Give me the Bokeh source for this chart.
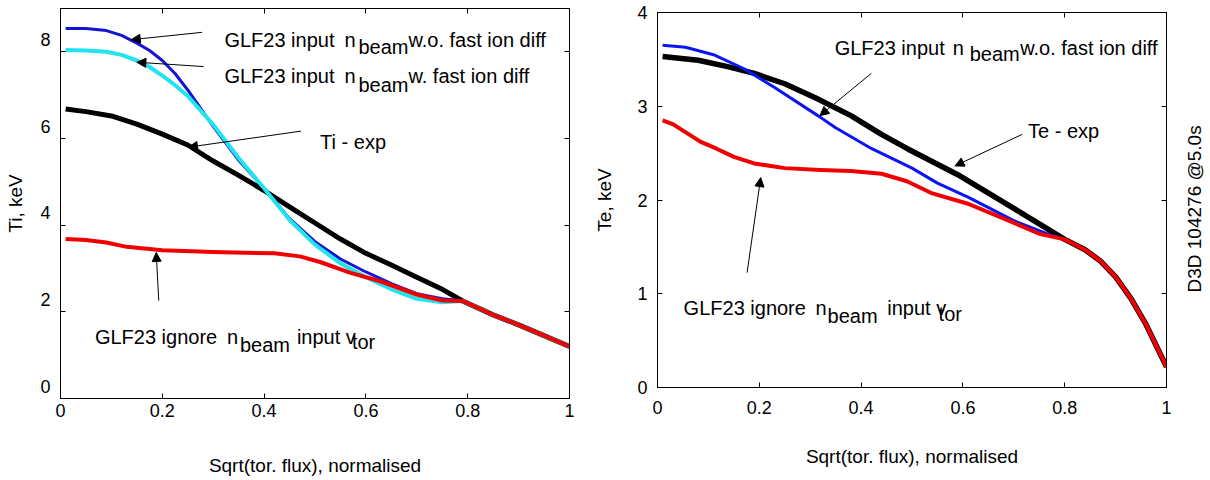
from math import pi
from bokeh.plotting import figure
from bokeh.layouts import row
from bokeh.models import (Range1d, FixedTicker, LinearAxis, Label, Arrow,
                          NormalHead, CustomJSTickFormatter)
from bokeh.embed import file_html
from bokeh.resources import INLINE

FONT = "Liberation Sans"

# ---------------- data: Ti (left panel) ----------------
ti_x_wo = [0.01, 0.05, 0.09, 0.12, 0.15, 0.175, 0.2, 0.225, 0.25, 0.3, 0.35, 0.4, 0.45, 0.5,
           0.55, 0.6, 0.65, 0.7, 0.75, 0.79, 0.85, 0.9, 0.95, 1.0]
ti_wo = [8.54, 8.54, 8.49, 8.38, 8.2, 8.03, 7.8, 7.5, 7.12, 6.28, 5.5, 4.85, 4.15, 3.62,
         3.22, 2.92, 2.65, 2.42, 2.3, 2.25, 1.93, 1.7, 1.45, 1.2]
ti_x_w = [0.01, 0.05, 0.09, 0.12, 0.15, 0.175, 0.2, 0.225, 0.25, 0.3, 0.35, 0.4, 0.45, 0.5,
          0.55, 0.6, 0.65, 0.7, 0.75, 0.79, 0.85, 0.9, 0.95, 1.0]
ti_w = [8.04, 8.03, 8.0, 7.93, 7.8, 7.65, 7.45, 7.23, 6.98, 6.32, 5.55, 4.85, 4.12, 3.55,
        3.12, 2.8, 2.52, 2.3, 2.22, 2.25, 1.93, 1.7, 1.45, 1.2]
ti_x_exp = [0.01, 0.05, 0.1, 0.15, 0.2, 0.25, 0.3, 0.35, 0.4, 0.45, 0.5, 0.55, 0.6, 0.65,
            0.7, 0.75, 0.79, 0.85, 0.9, 0.95, 1.0]
ti_exp = [6.68, 6.62, 6.52, 6.33, 6.1, 5.85, 5.48, 5.15, 4.8, 4.42, 4.05, 3.68, 3.35, 3.08,
          2.8, 2.52, 2.25, 1.93, 1.7, 1.45, 1.2]
ti_x_ign = [0.01, 0.05, 0.09, 0.13, 0.2, 0.3, 0.42, 0.47, 0.51, 0.57, 0.63, 0.7, 0.75, 0.79,
            0.85, 0.9, 0.95, 1.0]
ti_ign = [3.68, 3.66, 3.6, 3.5, 3.42, 3.38, 3.35, 3.28, 3.15, 2.9, 2.7, 2.4, 2.26, 2.25,
          1.93, 1.7, 1.45, 1.2]

# ---------------- data: Te (right panel) ----------------
te_x_exp = [0.01, 0.08, 0.14, 0.19, 0.25, 0.31, 0.38, 0.44, 0.49, 0.59, 0.7, 0.8,
            0.84, 0.87, 0.9, 0.93, 0.96, 1.0]
te_exp = [3.53, 3.49, 3.42, 3.35, 3.24, 3.09, 2.9, 2.7, 2.55, 2.27, 1.91, 1.58,
          1.47, 1.35, 1.18, 0.95, 0.67, 0.22]
te_x_wo = [0.01, 0.055, 0.11, 0.17, 0.23, 0.315, 0.35, 0.42, 0.5, 0.55, 0.61, 0.7, 0.77, 0.8,
           0.84, 0.87, 0.9, 0.93, 0.96, 1.0]
te_wo = [3.65, 3.63, 3.55, 3.4, 3.2, 2.9, 2.77, 2.55, 2.34, 2.18, 2.03, 1.78, 1.63, 1.58,
         1.47, 1.35, 1.18, 0.95, 0.67, 0.22]
te_x_ign = [0.01, 0.03, 0.085, 0.115, 0.15, 0.19, 0.25, 0.32, 0.38, 0.44, 0.49, 0.54, 0.61,
            0.69, 0.75, 0.8, 0.84, 0.87, 0.9, 0.93, 0.96, 1.0]
te_ign = [2.85, 2.81, 2.62, 2.55, 2.46, 2.39, 2.34, 2.32, 2.31, 2.28, 2.2, 2.07, 1.96,
          1.78, 1.64, 1.58, 1.47, 1.35, 1.18, 0.95, 0.67, 0.22]

# ---------------- ticks / labels ----------------
x_ticks = [0, 0.2, 0.4, 0.6, 0.8, 1]
x_tick_labels = ["0", "0.2", "0.4", "0.6", "0.8", "1"]
ti_ticks = [0, 2, 4, 6, 8]
ti_tick_labels = ["0", "2", "4", "6", "8"]
te_ticks = [0, 1, 2, 3, 4]
te_tick_labels = ["0", "1", "2", "3", "4"]
x_title = "Sqrt(tor. flux), normalised"
ti_title = "Ti, keV"
te_title = "Te, keV"
shot_text = "D3D 104276 @5.0s"

TICK_SIZE = "18px"
TITLE_SIZE = "19px"
TEXT_SIZE = "20px"


def make_fig(width, ymax, yticks, ylabels, ytitle, bl, br, bt, bb, xstand, xtitle_stand,
             ystand, ytitle_stand):
    p = figure(width=width, height=480, x_range=Range1d(0, 1), y_range=Range1d(0, ymax),
               output_backend="svg", toolbar_location=None,
               min_border_left=bl, min_border_right=br, min_border_top=bt,
               min_border_bottom=bb)
    p.frame_align = False
    p.grid.visible = False
    p.background_fill_color = "white"
    p.border_fill_color = "white"
    p.outline_line_color = "black"
    p.outline_line_width = 1

    xa = p.xaxis[0]
    xa.ticker = FixedTicker(ticks=x_ticks)
    xa.major_label_overrides = dict(zip(x_ticks, x_tick_labels))
    xa.axis_label = x_title
    xa.major_label_standoff = xstand
    xa.axis_label_standoff = xtitle_stand

    ya = p.yaxis[0]
    ya.ticker = FixedTicker(ticks=yticks)
    ya.major_label_overrides = dict(zip(yticks, ylabels))
    ya.axis_label = ytitle
    ya.major_label_standoff = ystand
    ya.axis_label_standoff = ytitle_stand

    for ax in (xa, ya):
        ax.major_tick_in = 5
        ax.major_tick_out = 0
        ax.minor_tick_line_color = None
        ax.axis_line_color = "black"
        ax.major_tick_line_color = "black"
        ax.major_label_text_font = FONT
        ax.major_label_text_font_size = TICK_SIZE
        ax.major_label_text_color = "black"
        ax.axis_label_text_font = FONT
        ax.axis_label_text_font_size = TITLE_SIZE
        ax.axis_label_text_font_style = "normal"
        ax.axis_label_text_color = "black"

    for ticks, place in ((x_ticks, "above"), (yticks, "right")):
        ax = LinearAxis(ticker=FixedTicker(ticks=ticks),
                        formatter=CustomJSTickFormatter(code="return ''"),
                        major_tick_in=5, major_tick_out=0, major_label_standoff=0,
                        major_label_text_font_size="0px",
                        minor_tick_line_color=None, axis_line_color="black")
        p.add_layout(ax, place)
    return p


def rich(p, x, y, parts):
    for text, dx, dy in parts:
        p.add_layout(Label(x=x, y=y, x_offset=dx, y_offset=-dy, text=text,
                           text_font=FONT, text_font_size=TEXT_SIZE, text_color="black",
                           text_align="left", text_baseline="alphabetic"))


def arrow(p, xs, ys, xe, ye):
    p.add_layout(Arrow(end=NormalHead(size=9, fill_color="black", line_color="black",
                                      line_width=1),
                       x_start=xs, y_start=ys, x_end=xe, y_end=ye,
                       line_color="black", line_width=1))


# ---------------- left panel ----------------
# left-panel tick labels sit above their ticks in the reference: a trailing
# empty line lifts each label by half a line.
ti_labels_raised = [t + "\n" for t in ti_tick_labels]
p1 = make_fig(589, 9, ti_ticks, ti_labels_raised, ti_title, 60, 20, 8, 82,
              5, 35, 10, 11)
p1.line(ti_x_exp, ti_exp, line_color="black", line_width=5, line_join="round")
p1.line(ti_x_wo, ti_wo, line_color="#1414d2", line_width=3, line_join="round")
p1.line(ti_x_w, ti_w, line_color="#22e4ee", line_width=4, line_join="round")
p1.line(ti_x_ign, ti_ign, line_color="#f00000", line_width=4, line_join="round")

rich(p1, 0.322, 8.28, [("GLF23 input", 0, 0), ("n", 120, 0), ("beam", 134, 7.5),
                       ("w.o. fast ion diff", 184, 0)])
arrow(p1, 0.278, 8.45, 0.139, 8.28)
rich(p1, 0.322, 7.45, [("GLF23 input", 0, 0), ("n", 120, 0), ("beam", 134, 9),
                       ("w. fast ion diff", 184, 0)])
arrow(p1, 0.281, 7.66, 0.150, 7.76)
rich(p1, 0.51, 5.93, [("Ti - exp", 0, 0)])
arrow(p1, 0.4725, 6.17, 0.2515, 5.80)
rich(p1, 0.0676, 1.41, [("GLF23 ignore", 0, 0), ("n", 132, 0), ("beam", 145, 8),
                        ("input v", 202, 0), ("tor", 257, 5)])
arrow(p1, 0.193, 2.26, 0.188, 3.37)

# ---------------- right panel ----------------
p2 = make_fig(589, 4, te_ticks, te_tick_labels, te_title, 68, 12, 12, 93,
              13, 29, 10, 19)
p2.line(te_x_exp, te_exp, line_color="black", line_width=5.5, line_join="round")
p2.line(te_x_wo, te_wo, line_color="#0a14f5", line_width=3, line_join="round")
p2.line(te_x_ign, te_ign, line_color="#f00000", line_width=4, line_join="round")

rich(p2, 0.348, 3.626, [("GLF23 input", 0, 0), ("n", 118, 0), ("beam", 135, 6.6),
                        ("w.o. fast ion diff", 185.5, 0)])
arrow(p2, 0.42, 3.35, 0.319, 2.90)
rich(p2, 0.728, 2.737, [("Te - exp", 0, 0)])
arrow(p2, 0.7165, 2.70, 0.5845, 2.364)
rich(p2, 0.0513, 0.852, [("GLF23 ignore", 0, 0), ("n", 132, 0), ("beam", 144, 8.3),
                         ("input v", 203.6, 0), ("tor", 255, 6)])
arrow(p2, 0.176, 1.225, 0.2028, 2.239)

# ---------------- narrow strip holding the shot label ----------------
p3 = figure(width=32, height=480, x_range=Range1d(0, 1), y_range=p2.y_range,
            x_axis_type=None, y_axis_type=None, output_backend="svg",
            toolbar_location=None, min_border_left=0, min_border_right=0,
            min_border_top=12, min_border_bottom=93)
p3.frame_align = False
p3.grid.visible = False
p3.outline_line_color = None
p3.background_fill_color = "white"
p3.border_fill_color = "white"
p3.add_layout(Label(x=0.5, y=1.905, text=shot_text, angle=pi / 2,
                    text_font=FONT, text_font_size=TITLE_SIZE, text_color="black",
                    text_align="center", text_baseline="middle"))

layout = row(p1, p2, p3)
open("out.html", "w").write(file_html(layout, INLINE))
